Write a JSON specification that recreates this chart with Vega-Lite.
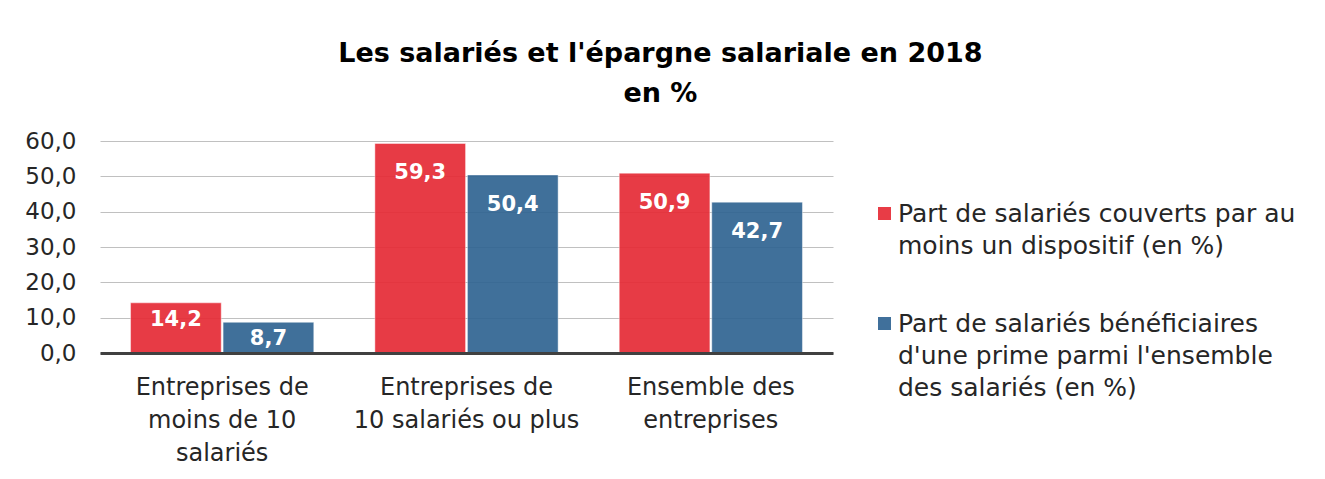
{
  "$schema": "https://vega.github.io/schema/vega-lite/v6.json",
  "width": 733,
  "height": 212,
  "padding": {"left": 24, "top": 40, "right": 5, "bottom": 5},
  "background": "white",
  "title": {
    "text": ["Les salariés et l'épargne salariale en 2018", "en %"],
    "anchor": "middle",
    "frame": "bounds",
    "font": "DejaVu Sans",
    "fontSize": 27,
    "fontWeight": "bold",
    "color": "#000000",
    "lineHeight": 40,
    "offset": 22
  },
  "data": {
    "values": [
      {"categorie": "Entreprises de moins de 10 salariés", "serie": "Part de salariés couverts par au moins un dispositif (en %)", "valeur": 14.2},
      {"categorie": "Entreprises de moins de 10 salariés", "serie": "Part de salariés bénéficiaires d'une prime parmi l'ensemble des salariés (en %)", "valeur": 8.7},
      {"categorie": "Entreprises de 10 salariés ou plus", "serie": "Part de salariés couverts par au moins un dispositif (en %)", "valeur": 59.3},
      {"categorie": "Entreprises de 10 salariés ou plus", "serie": "Part de salariés bénéficiaires d'une prime parmi l'ensemble des salariés (en %)", "valeur": 50.4},
      {"categorie": "Ensemble des entreprises", "serie": "Part de salariés couverts par au moins un dispositif (en %)", "valeur": 50.9},
      {"categorie": "Ensemble des entreprises", "serie": "Part de salariés bénéficiaires d'une prime parmi l'ensemble des salariés (en %)", "valeur": 42.7}
    ]
  },
  "encoding": {
    "x": {
      "field": "categorie",
      "type": "nominal",
      "sort": null,
      "scale": {"paddingInner": 0.25, "paddingOuter": 0.125},
      "axis": {
        "title": null,
        "labelAngle": 0,
        "ticks": false,
        "domainColor": "#404040",
        "domainWidth": 3,
        "zindex": 1,
        "labelFont": "DejaVu Sans",
        "labelFontSize": 24,
        "labelLineHeight": 33,
        "labelPadding": 22,
        "labelColor": "#262626",
        "labelLimit": 0,
        "labelExpr": "datum.label == 'Entreprises de moins de 10 salariés' ? ['Entreprises de', 'moins de 10', 'salariés'] : datum.label == 'Entreprises de 10 salariés ou plus' ? ['Entreprises de', '10 salariés ou plus'] : ['Ensemble des', 'entreprises']"
      }
    },
    "xOffset": {"field": "serie", "type": "nominal", "sort": null, "scale": {"paddingInner": 0.02}},
    "y": {
      "field": "valeur",
      "type": "quantitative",
      "scale": {"domain": [0, 60]},
      "axis": {
        "title": null,
        "format": ".1f",
        "values": [0, 10, 20, 30, 40, 50, 60],
        "ticks": false,
        "domain": false,
        "labelFont": "DejaVu Sans",
        "labelFontSize": 23,
        "labelColor": "#262626",
        "labelPadding": 24,
        "gridColor": "#c0c0c0",
        "gridWidth": 1
      }
    }
  },
  "layer": [
    {
      "mark": {"type": "bar", "opacity": 0.92, "stroke": "#ffffff", "strokeOpacity": 0.45, "strokeWidth": 1},
      "encoding": {
        "color": {
          "field": "serie",
          "type": "nominal",
          "sort": null,
          "scale": {
            "domain": ["Part de salariés couverts par au moins un dispositif (en %)", "Part de salariés bénéficiaires d'une prime parmi l'ensemble des salariés (en %)"],
            "range": ["#E62B36", "#306492"]
          },
          "legend": {
            "title": null,
            "orient": "none",
            "legendX": 772,
            "legendY": 60,
            "symbolType": "square",
            "symbolSize": 169,
            "symbolOpacity": 0.92,
            "symbolStrokeWidth": 0,
            "labelFont": "DejaVu Sans",
            "labelFontSize": 25,
            "labelColor": "#262626",
            "labelLimit": 600,
            "labelOffset": 1,
            "rowPadding": 52,
            "labelExpr": "datum.label == 'Part de salariés couverts par au moins un dispositif (en %)' ? ['Part de salariés couverts par au', 'moins un dispositif (en %)'] : ['Part de salariés bénéficiaires', \"d'une prime parmi l'ensemble\", 'des salariés (en %)']"
          }
        }
      }
    },
    {
      "transform": [{"filter": "datum.valeur >= 20"}],
      "mark": {"type": "text", "dy": 30, "color": "#ffffff", "font": "DejaVu Sans", "fontWeight": "bold", "fontSize": 21, "align": "center", "baseline": "middle"},
      "encoding": {"text": {"field": "valeur", "type": "quantitative", "format": ".1f"}}
    },
    {
      "transform": [{"filter": "datum.valeur < 20"}],
      "mark": {"type": "text", "dy": 17, "color": "#ffffff", "font": "DejaVu Sans", "fontWeight": "bold", "fontSize": 21, "align": "center", "baseline": "middle"},
      "encoding": {"text": {"field": "valeur", "type": "quantitative", "format": ".1f"}}
    }
  ],
  "config": {
    "locale": {"number": {"decimal": ",", "thousands": " ", "grouping": [3], "currency": ["", " €"]}},
    "view": {"stroke": null},
    "font": "DejaVu Sans",
    "style": {"guide-label": {"lineHeight": 32}}
  }
}
